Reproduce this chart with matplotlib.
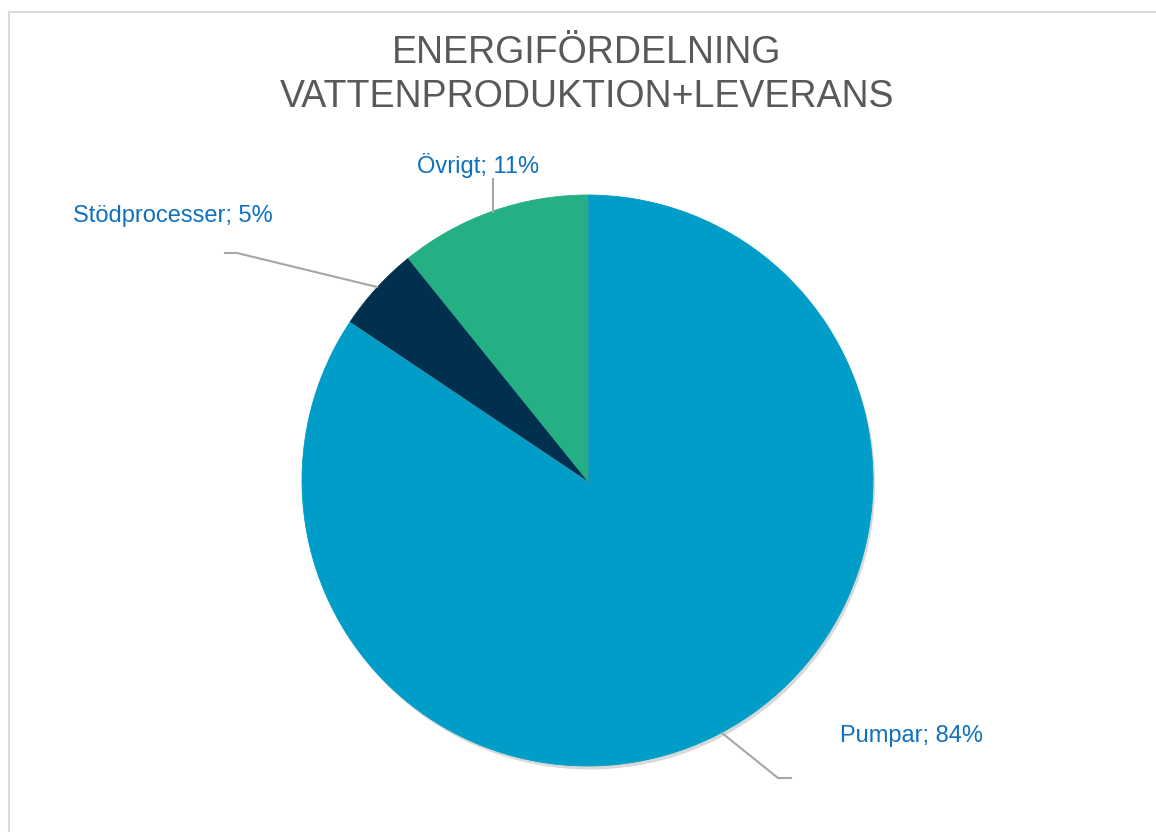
import matplotlib.pyplot as plt
from matplotlib import patheffects as pe

# Values (wedge angles), labels show rounded percents
labels = ['Pumpar', 'Stödprocesser', 'Övrigt']
shares = [84.4, 4.8, 10.8]
colors = ['#009DC9', '#00304D', '#24B084']

W, H = 1156, 832
fig = plt.figure(figsize=(W / 100, H / 100), dpi=100)
ax = fig.add_axes([0, 0, 1, 1])

plt.rcParams['font.family'] = ['Liberation Sans', 'DejaVu Sans']

cx, cy, r = 587.5, H - 480.5, 285.5
wedges, _ = ax.pie(shares, colors=colors, startangle=90, counterclock=False,
                   center=(cx, cy), radius=r, frame=True,
                   wedgeprops=dict(linewidth=0.6))
for w in wedges:
    w.set_edgecolor(w.get_facecolor())
    w.set_path_effects([pe.SimplePatchShadow(offset=(1.5, -2.5),
                                             shadow_rgbFace='#808080', alpha=0.3),
                        pe.Normal()])
ax.set_xlim(0, W)
ax.set_ylim(0, H)
ax.set_aspect('equal')
ax.axis('off')

# chart area border (only top and left visible)
ax.plot([8.5, 8.5, W], [0, H - 11.5, H - 11.5], color='#D9D9D9', lw=1.5,
        solid_joinstyle='miter')

# title
ax.text(587, H - 63, 'ENERGIFÖRDELNING', ha='center', va='baseline',
        fontsize=27, color='#595959')
ax.text(587, H - 107, 'VATTENPRODUKTION+LEVERANS', ha='center', va='baseline',
        fontsize=27, color='#595959')

# leader lines
lc = '#A6A6A6'
ax.plot([722, 778, 791], [H - 733, H - 778, H - 778], color=lc, lw=1.5)
ax.plot([225, 237, 377], [H - 253, H - 253, H - 287], color=lc, lw=1.5)
ax.plot([493, 493], [H - 179, H - 212], color=lc, lw=1.5)

# data labels
lab_col = '#0F70BE'
pos = {'Pumpar': (840, 742, 'left'),
       'Stödprocesser': (73, 222, 'left'),
       'Övrigt': (478, 173, 'center')}
for name, val in zip(labels, shares):
    x, y, ha = pos[name]
    ax.text(x, H - y, f'{name}; {round(val)}%', ha=ha, va='baseline',
            fontsize=17, color=lab_col)

fig.savefig('out.png', dpi=100)
